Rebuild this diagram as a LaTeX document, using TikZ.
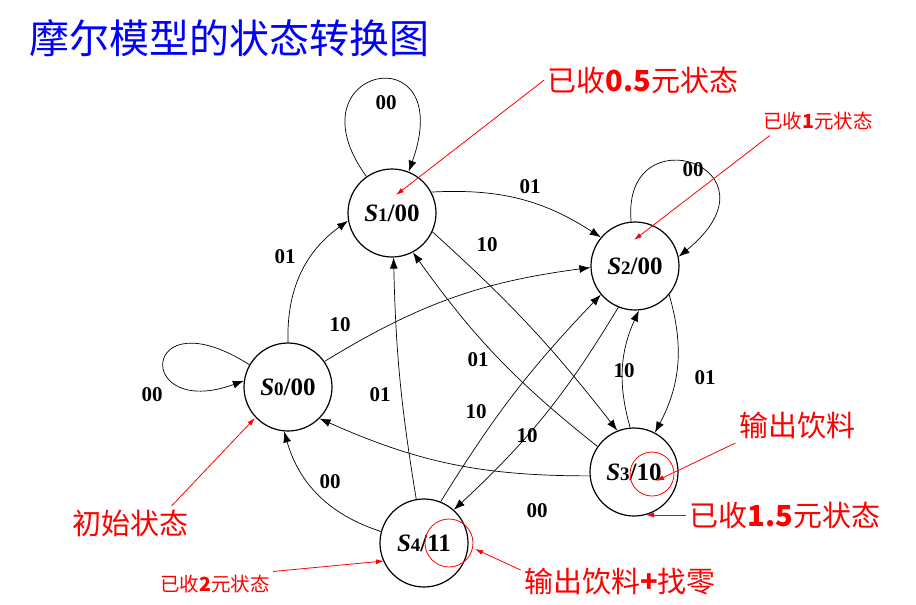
\documentclass[tikz,border=0pt]{standalone}
\usepackage{fontspec}
\setmainfont{Liberation Serif}
\newfontfamily\cjk{Noto Sans CJK SC}
\usetikzlibrary{arrows.meta}
\begin{document}
\begin{tikzpicture}[x=1pt,y=-1pt,
  st/.style={circle,draw,line width=1.2pt,minimum size=88pt,inner sep=0pt,font=\fontsize{25}{27}\selectfont\bfseries},
  ed/.style={-{Latex[length=11pt,width=8pt]},line width=0.7pt},
  lb/.style={font=\fontsize{21}{23}\selectfont\bfseries},
  rd/.style={red,-{Latex[length=8pt,width=5pt]},line width=0.8pt},
  rt/.style={red,font=\fontsize{29}{32}\selectfont\cjk},
  rs/.style={red,font=\fontsize{19.5}{22}\selectfont\cjk},
  rc/.style={circle,draw=red,line width=0.8pt,inner sep=0pt}]
\useasboundingbox (0,0) rectangle (916,605);
\node[anchor=west,blue,font=\fontsize{40}{44}\selectfont\cjk] (title) at (26,38) {摩尔模型的状态转换图};
\newcommand{\stl}[2]{\textit{S}{\fontsize{19}{21}\selectfont #1}/#2}
\node[st] (S0) at (288,387) {\stl{0}{00}};
\node[st] (S1) at (392,213) {\stl{1}{00}};
\node[st] (S2) at (635,266) {\stl{2}{00}};
\node[st] (S3) at (634,472) {\stl{3}{10}};
\node[st] (S4) at (424,543) {\stl{4}{11}};
% loops
\draw[ed] (S1.125) .. controls +(-80,-110) and +(50,-140) .. (S1.68);
\draw[ed] (S2.95) .. controls +(-10,-110) and +(110,-90) .. (S2.12);
\draw[ed] (S0.150) .. controls +(-110,-70) and +(-110,40) .. (S0.172);
% edges
\draw[ed] (S1.28) to[bend left=18] (S2.140);
\draw[ed] (S1.-25) to[bend left=5] (S3.112);
\draw[ed] (S0.90) to[bend left=28] (S1.190);
\draw[ed] (S0.35) to[bend left=12] (S2.182);
\draw[ed] (S2.-40) to[bend left=22] (S3.62);
\draw[ed] (S3.95) to[bend left=20] (S2.-85);
\draw[ed] (S2.-112) to[bend left=8] (S4.48);
\draw[ed] (S3.145) to[bend left=8] (S1.-62);
\draw[ed] (S3.185) to[bend left=12] (S0.-45);
\draw[ed] (S4.165) to[bend left=28] (S0.-95);
\draw[ed] (S4.100) to[bend left=4] (S1.-88);
\draw[ed] (S4.68) to[bend left=6] (S2.-140);
% labels
\node[lb] (l1) at (386,103) {00};
\node[lb] (l2) at (693,170) {00};
\node[lb] (l3) at (152,395) {00};
\node[lb] (l4) at (530,187) {01};
\node[lb] (l5) at (487,245) {10};
\node[lb] (l6) at (285,257) {01};
\node[lb] (l7) at (340,325) {10};
\node[lb] (l8) at (705,378) {01};
\node[lb] (l9) at (624,371) {10};
\node[lb] (l10) at (527,436) {10};
\node[lb] (l11) at (478,360) {01};
\node[lb] (l12) at (476,412) {10};
\node[lb] (l13) at (380,395) {01};
\node[lb] (l14) at (537,511) {00};
\node[lb] (l15) at (330,482) {00};
% red annotations
\node[rc,minimum size=44pt] (c3) at (652,474) {};
\node[rc,minimum size=48pt] (c4) at (449,543) {};
\node[rt] (a1) at (643,80) {已收\textbf{0.5}元状态};
\node[rs] (a2) at (818,121) {已收\textbf{1}元状态};
\node[rt] (a3) at (797,426) {输出饮料};
\node[rt] (a4) at (785,515) {已收\textbf{1.5}元状态};
\node[rt] (a5) at (130,523) {初始状态};
\node[rs] (a6) at (215,584) {已收\textbf{2}元状态};
\node[rt] (a7) at (620,582) {输出饮料\textbf{+}找零};
\coordinate (p1) at (396,195);
\coordinate (p2) at (634,240);
\coordinate (p3) at (656,481);
\coordinate (p4) at (646,515);
\coordinate (p5) at (255,418);
\coordinate (p6) at (384,561);
\coordinate (p7) at (475,549);
\draw[rd] (a1.west) -- (p1);
\draw[rd] (a2.south west) ++(10,2) -- (p2);
\draw[rd] (a3.south west) -- (p3);
\draw[rd] (a4.west) -- (p4);
\draw[rd] (a5.north east) ++(-20,0) -- (p5);
\draw[rd] (a6.north east) -- (p6);
\draw[rd] (a7.north west) ++(0,5) -- (p7);
\end{tikzpicture}
\end{document}
